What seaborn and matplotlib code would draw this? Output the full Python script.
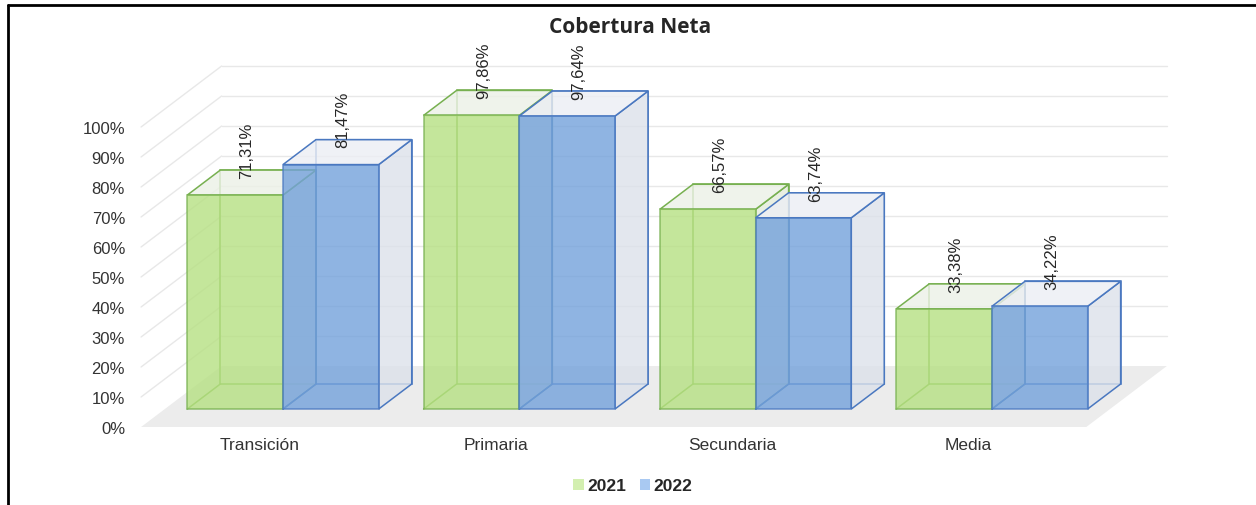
# Cobertura Neta 2021 vs 2022 - barras con efecto 3D (estilo Excel)
import matplotlib
matplotlib.use('Agg')
import matplotlib.pyplot as plt
import pandas as pd
import seaborn as sns
from matplotlib.patches import Polygon, Patch
from matplotlib.lines import Line2D

niveles = ["Transición", "Primaria", "Secundaria", "Media"]
anios = ["2021", "2022"]
cob_2021 = [71.31, 97.86, 66.57, 33.38]
cob_2022 = [81.47, 97.64, 63.74, 34.22]
ticks_pct = list(range(0, 101, 10))

df = pd.DataFrame({
    "nivel": niveles * 2,
    "anio": [anios[0]] * 4 + [anios[1]] * 4,
    "cobertura": cob_2021 + cob_2022,
})

# colores de caras y bordes
frente = ["#b6e082", "#73a1db"]
bordes = ["#77b050", "#4a78c0"]
techo = ["#ecf1e6", "#eceef4"]
lado = ["#e4ebdb", "#dce1ea"]
leyenda_col = ["#d3efb0", "#a9c9f2"]

# profundidad (en unidades de datos) de cada barra y del piso
DX, DY = 0.1397, 8.33
D_FRONT, D_BACK = -0.72, 1.72


def proj(x, z, d):
    return (x + d * DX, z + d * DY)


sns.set_theme(style="white")
plt.rcParams['font.family'] = ['Liberation Sans', 'DejaVu Sans']

fig = plt.figure(figsize=(12.56, 5.06), dpi=100)
ax = fig.add_axes([0.1051, 0.15415, 0.8662, 0.7668])

sns.barplot(data=df, x="nivel", y="cobertura", hue="anio", palette=frente,
            saturation=1, width=0.81, errorbar=None, legend=False, ax=ax)

bars = sorted(ax.patches, key=lambda p: p.get_x())

# piso y paredes con lineas de cuadricula
piso = [proj(-0.5, 0, D_FRONT), proj(3.5, 0, D_FRONT), proj(3.5, 0, D_BACK), proj(-0.5, 0, D_BACK)]
ax.add_patch(Polygon(piso, closed=True, facecolor="#ececec", edgecolor="none", zorder=1))
for v in ticks_pct[1:]:
    a, b = proj(-0.5, v, D_BACK), proj(3.5, v, D_BACK)
    ax.plot([a[0], b[0]], [a[1], b[1]], color="#e8e8e8", lw=1, zorder=0.5)
    c = proj(-0.5, v, D_FRONT)
    ax.plot([c[0], a[0]], [c[1], a[1]], color="#e8e8e8", lw=1, zorder=0.5)

for i, bar in enumerate(bars):
    k = i % 2
    x0, w, h = bar.get_x(), bar.get_width(), bar.get_height()
    z = 3 + i
    # aristas traseras (se ven por transparencia)
    back = [proj(x0, 0, 1), proj(x0 + w, 0, 1), proj(x0 + w, h, 1), proj(x0, h, 1)]
    ax.add_patch(Polygon(back, closed=True, fill=False, edgecolor=bordes[k], lw=1.1, zorder=z))
    p0, p1 = proj(x0, 0, 0), proj(x0, 0, 1)
    ax.plot([p0[0], p1[0]], [p0[1], p1[1]], color=bordes[k], lw=1.1, zorder=z)
    # cara lateral y techo
    side = [proj(x0 + w, 0, 0), proj(x0 + w, 0, 1), proj(x0 + w, h, 1), proj(x0 + w, h, 0)]
    ax.add_patch(Polygon(side, closed=True, facecolor=lado[k], alpha=0.8, edgecolor="none", zorder=z + 0.1))
    ax.add_patch(Polygon(side, closed=True, fill=False, edgecolor=bordes[k], lw=1.1, zorder=z + 0.15))
    top = [proj(x0, h, 0), proj(x0 + w, h, 0), proj(x0 + w, h, 1), proj(x0, h, 1)]
    ax.add_patch(Polygon(top, closed=True, facecolor=techo[k], alpha=0.8, edgecolor="none", zorder=z + 0.2))
    ax.add_patch(Polygon(top, closed=True, fill=False, edgecolor=bordes[k], lw=1.1, zorder=z + 0.25))
    # cara frontal = barra de seaborn
    bar.set_alpha(0.8)
    bar.set_edgecolor(bordes[k])
    bar.set_linewidth(1.1)
    bar.set_zorder(z + 0.4)
    ax.text(x0 + w / 2 + 0.05, h + 5.7, f"{h:.2f}%".replace(".", ","), rotation=90,
            ha="center", va="bottom", fontsize=12, color="#262626", zorder=30)

ax.set_xlim(-0.639, 3.965)
ax.set_ylim(-6, 123.33)
ax.set_yticks([v + D_FRONT * DY for v in ticks_pct])
ax.set_yticklabels([f"{v}%" for v in ticks_pct])
ax.set_xticks([j + D_FRONT * DX for j in range(len(niveles))])
ax.set_xticklabels(niveles)
ax.tick_params(axis="y", length=0, pad=5, labelsize=12, labelcolor="#333333")
ax.tick_params(axis="x", length=0, pad=7.5, labelsize=12.5, labelcolor="#333333")
ax.set_xlabel("")
ax.set_ylabel("")
for s in ax.spines.values():
    s.set_visible(False)

fig.text(0.5016, 0.9447, "Cobertura Neta", ha="center", va="center",
         family=["Open Sans", "DejaVu Sans"], fontweight="bold", fontsize=15)

handles = [Patch(facecolor=leyenda_col[j], edgecolor="none") for j in range(2)]
fig.legend(handles, anios, loc="center", bbox_to_anchor=(633 / 1256, 19 / 506), ncol=2,
           frameon=False, prop={"weight": "bold", "size": 12.5}, handlelength=0.6,
           handleheight=0.6, handletextpad=0.2, columnspacing=0.8)

# marco del grafico (borde superior e izquierdo)
fig.add_artist(Line2D([8 / 1256, 8 / 1256], [0, 1 - 6 / 506], transform=fig.transFigure, color="black", lw=2))
fig.add_artist(Line2D([8 / 1256, 1], [1 - 6 / 506, 1 - 6 / 506], transform=fig.transFigure, color="black", lw=2))

fig.savefig("out.png", dpi=100, facecolor="white")
